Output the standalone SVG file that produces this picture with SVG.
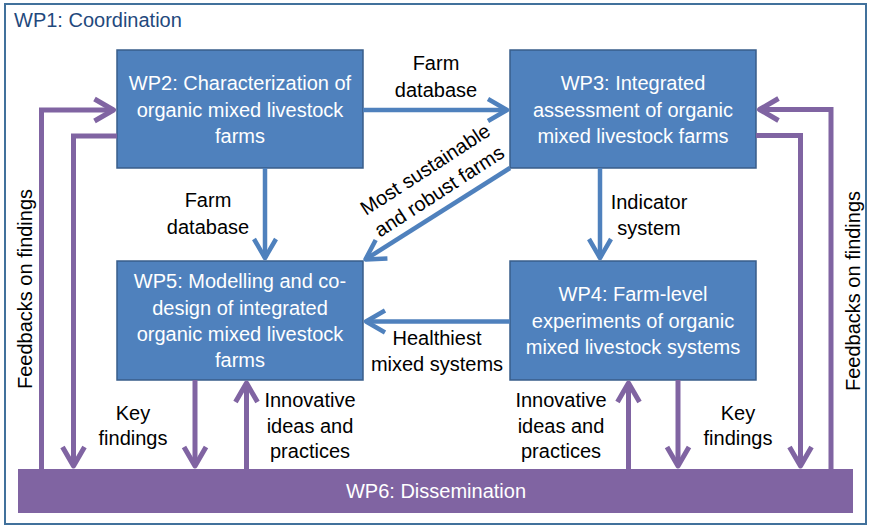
<svg xmlns="http://www.w3.org/2000/svg" width="876" height="528" viewBox="0 0 876 528">
<style>
  text { font-family: "Liberation Sans", Arial, sans-serif; font-size: 20px; }
  .box { fill: #4F81BD; stroke: #385D8A; stroke-width: 1.5; }
  .bar { fill: #8064A2; }
  .wt { fill: #FFFFFF; text-anchor: middle; }
  .lbl { fill: #000000; text-anchor: middle; }
  .blue { fill: none; stroke: #4F81BD; stroke-width: 4.5; stroke-linejoin: miter; }
  .purple { fill: none; stroke: #8064A2; stroke-width: 5; stroke-linejoin: miter; }
</style>
<defs>
  <marker id="ahB" markerUnits="userSpaceOnUse" orient="auto" refX="0" refY="0" markerWidth="30" markerHeight="30" overflow="visible">
    <path d="M-19,-11 L0,0 L-19,11" fill="none" stroke="#4F81BD" stroke-width="4.5" stroke-linejoin="round" stroke-linecap="butt"/>
  </marker>
  <marker id="ahP" markerUnits="userSpaceOnUse" orient="auto" refX="0" refY="0" markerWidth="30" markerHeight="30" overflow="visible">
    <path d="M-19,-11 L0,0 L-19,11" fill="none" stroke="#8064A2" stroke-width="5" stroke-linejoin="round" stroke-linecap="butt"/>
  </marker>
</defs>
<rect x="0" y="0" width="876" height="528" fill="#FFFFFF"/>

<g id="wp1">
  <rect x="5" y="4" width="861" height="520" fill="none" stroke="#41719C" stroke-width="2"/>
  <text x="14" y="27" fill="#1F497D">WP1: Coordination</text>
</g>

<g id="wp2">
  <rect class="box" x="117" y="50" width="246" height="118"/>
  <text class="wt" x="240" y="90">WP2: Characterization of</text>
  <text class="wt" x="240" y="116.5">organic mixed livestock</text>
  <text class="wt" x="240" y="143">farms</text>
</g>

<g id="wp3">
  <rect class="box" x="510" y="50" width="246" height="118"/>
  <text class="wt" x="633" y="90">WP3: Integrated</text>
  <text class="wt" x="633" y="116.5">assessment of organic</text>
  <text class="wt" x="633" y="143">mixed livestock farms</text>
</g>

<g id="wp5">
  <rect class="box" x="117" y="261" width="246" height="119"/>
  <text class="wt" x="240" y="288">WP5: Modelling and co-</text>
  <text class="wt" x="240" y="314.5">design of integrated</text>
  <text class="wt" x="240" y="341">organic mixed livestock</text>
  <text class="wt" x="240" y="367">farms</text>
</g>

<g id="wp4">
  <rect class="box" x="510" y="261" width="246" height="119"/>
  <text class="wt" x="633" y="301">WP4: Farm-level</text>
  <text class="wt" x="633" y="327.5">experiments of organic</text>
  <text class="wt" x="633" y="354">mixed livestock systems</text>
</g>

<g id="wp6">
  <rect class="bar" x="18" y="469" width="835" height="44"/>
  <text class="wt" x="436" y="498">WP6: Dissemination</text>
</g>

<g id="connectors">
  <path class="blue" d="M363,110 H507" marker-end="url(#ahB)"/>
  <path class="blue" d="M265,168 V258" marker-end="url(#ahB)"/>
  <path class="blue" d="M600,168 V258" marker-end="url(#ahB)"/>
  <path class="blue" d="M510,321.5 H366" marker-end="url(#ahB)"/>
  <path class="blue" d="M510,168 L365.5,259.4" marker-end="url(#ahB)"/>

  <path class="purple" d="M41.5,469 V110 H113.5" marker-end="url(#ahP)"/>
  <path class="purple" d="M117,136 H73.5 V466" marker-end="url(#ahP)"/>
  <path class="purple" d="M195,380 V466" marker-end="url(#ahP)"/>
  <path class="purple" d="M246.5,469 V383" marker-end="url(#ahP)"/>
  <path class="purple" d="M628.5,469 V383" marker-end="url(#ahP)"/>
  <path class="purple" d="M678,380 V466" marker-end="url(#ahP)"/>
  <path class="purple" d="M756,135.5 H800.5 V466" marker-end="url(#ahP)"/>
  <path class="purple" d="M831,469 V109.5 H759.5" marker-end="url(#ahP)"/>

  <text class="lbl" x="436" y="70">Farm</text>
  <text class="lbl" x="436" y="96.5">database</text>
  <text class="lbl" x="208" y="207">Farm</text>
  <text class="lbl" x="208" y="233.5">database</text>
  <text class="lbl" x="649" y="209">Indicator</text>
  <text class="lbl" x="649" y="235">system</text>
  <text class="lbl" x="437" y="345">Healthiest</text>
  <text class="lbl" x="437" y="371">mixed systems</text>
  <g transform="translate(443,197) rotate(-33)">
    <text class="lbl" x="0" y="-26">Most sustainable</text>
    <text class="lbl" x="0" y="0">and robust farms</text>
  </g>
  <text class="lbl" x="133" y="420">Key</text>
  <text class="lbl" x="133" y="445">findings</text>
  <text class="lbl" x="738" y="420">Key</text>
  <text class="lbl" x="738" y="445">findings</text>
  <text class="lbl" x="310" y="406.5">Innovative</text>
  <text class="lbl" x="310" y="432.5">ideas and</text>
  <text class="lbl" x="310" y="458">practices</text>
  <text class="lbl" x="561" y="406.5">Innovative</text>
  <text class="lbl" x="561" y="432.5">ideas and</text>
  <text class="lbl" x="561" y="458">practices</text>
  <text class="lbl" transform="translate(32,289) rotate(-90)" x="0" y="0">Feedbacks on findings</text>
  <text class="lbl" transform="translate(860,291) rotate(-90)" x="0" y="0">Feedbacks on findings</text>
</g>
</svg>
